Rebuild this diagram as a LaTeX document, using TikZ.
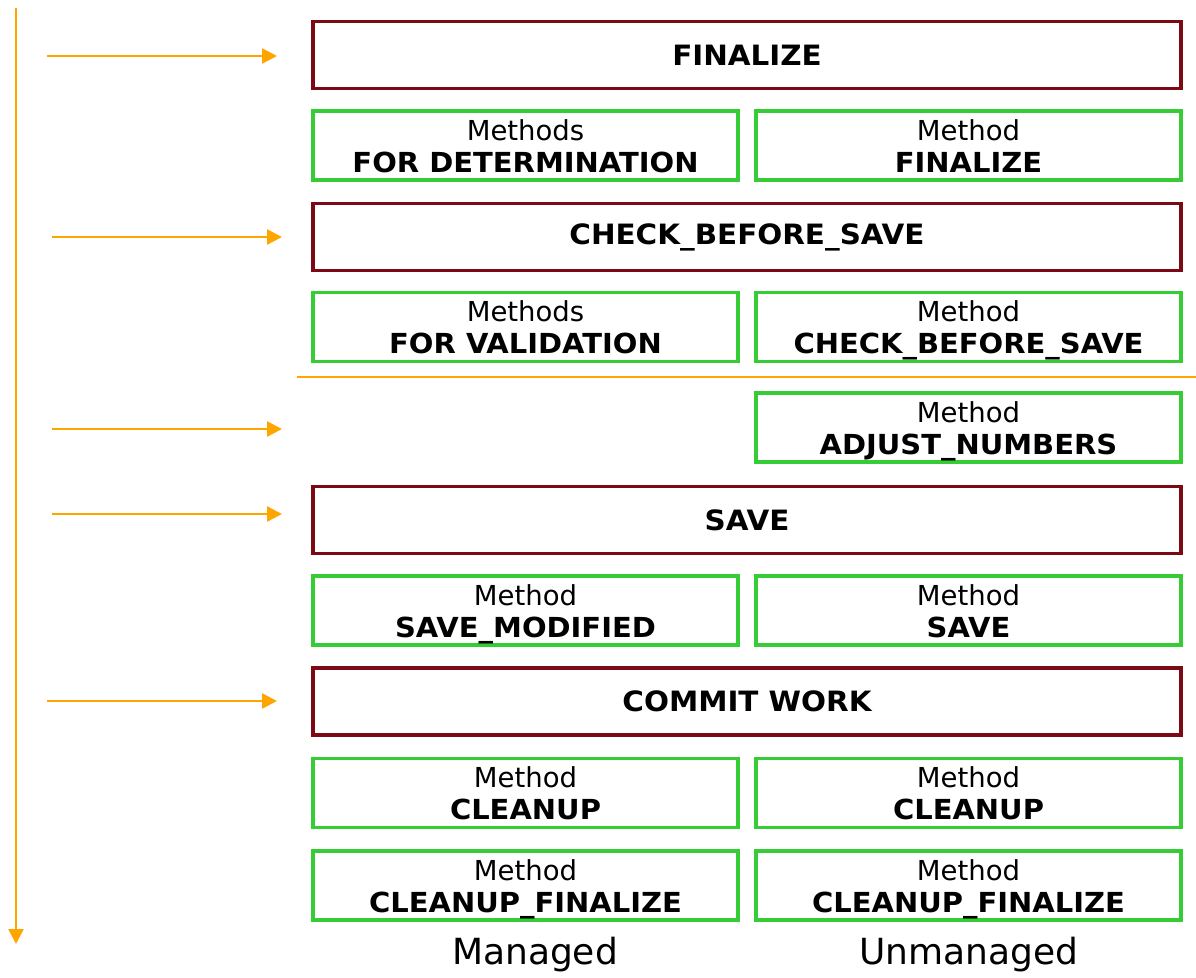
\documentclass[tikz,border=0pt]{standalone}
\usepackage{fontspec}
\setmainfont{DejaVu Sans}
\newfontfamily\wideb{DejaVu Sans}[FakeStretch=1.05]
\usetikzlibrary{arrows.meta}
\definecolor{stepred}{HTML}{7B0A14}
\definecolor{methgreen}{HTML}{36CC36}
\definecolor{floworange}{HTML}{FFA500}
% two-line label of a method box
\newcommand{\mlab}[2]{\rule{0pt}{21pt}#1\\\smash{\wideb\bfseries\fontsize{27.6}{32}\selectfont #2}}
\tikzset{
    every node/.style={font=\fontsize{27.5}{32}\selectfont},
    phase/.style={draw=stepred, line width=3.5pt, minimum width=868pt, minimum height=67pt, font=\fontsize{28}{32}\selectfont\wideb\bfseries},
    meth/.style={draw=methgreen, line width=3.5pt, minimum width=425pt, minimum height=69pt, align=center, inner sep=0pt},
    flow/.style={floworange, line width=2.4pt, -{Triangle[length=15pt,width=15pt]}},
    caption/.style={font=\fontsize{36}{40}\selectfont}
}
\begin{document}
\begin{tikzpicture}[x=1pt,y=-1pt]
\useasboundingbox (0,0) rectangle (1196,977);

\node[phase] at (747,55) (p0) {FINALIZE};
\node[meth] at (525.5,145.5) (m00) {\mlab{Methods}{FOR DETERMINATION}};
\node[meth] at (968.5,145.5) (m01) {\mlab{Method}{FINALIZE}};

\node[phase] at (747,237) (p1) {CHECK\_BEFORE\_SAVE};
\node[meth] at (525.5,327) (m10) {\mlab{Methods}{FOR VALIDATION}};
\node[meth] at (968.5,327) (m11) {\mlab{Method}{CHECK\_BEFORE\_SAVE}};

\node[meth] at (968.5,427.5) (m21) {\mlab{Method}{ADJUST\_NUMBERS}};

\node[phase] at (747,520) (p2) {SAVE};
\node[meth] at (525.5,610.5) (m30) {\mlab{Method}{SAVE\_MODIFIED}};
\node[meth] at (968.5,610.5) (m31) {\mlab{Method}{SAVE}};

\node[phase] at (747,701.5) (p3) {COMMIT WORK};
\node[meth] at (525.5,793) (m40) {\mlab{Method}{CLEANUP}};
\node[meth] at (968.5,793) (m41) {\mlab{Method}{CLEANUP}};
\node[meth] at (525.5,885.5) (m50) {\mlab{Method}{CLEANUP\_FINALIZE}};
\node[meth] at (968.5,885.5) (m51) {\mlab{Method}{CLEANUP\_FINALIZE}};

\node[caption] at (535,955) (c0) {Managed};
\node[caption] at (968.5,955) (c1) {Unmanaged};

\coordinate (t0) at (16,8);
\coordinate (t1) at (16,944);
\coordinate (s0) at (47,56);
\coordinate (e0) at (277,56);
\coordinate (s1) at (52,237);
\coordinate (e1) at (282,237);
\coordinate (s2) at (52,429);
\coordinate (e2) at (282,429);
\coordinate (s3) at (52,514);
\coordinate (e3) at (282,514);
\coordinate (s4) at (47,701);
\coordinate (e4) at (277,701);
\coordinate (d0) at (297,377);
\coordinate (d1) at (1196,377);

\draw[flow] (t0) -- (t1);
\draw[flow] (s0) -- (e0);
\draw[flow] (s1) -- (e1);
\draw[flow] (s2) -- (e2);
\draw[flow] (s3) -- (e3);
\draw[flow] (s4) -- (e4);

\draw[floworange, line width=2pt] (d0) -- (d1);
\end{tikzpicture}
\end{document}
